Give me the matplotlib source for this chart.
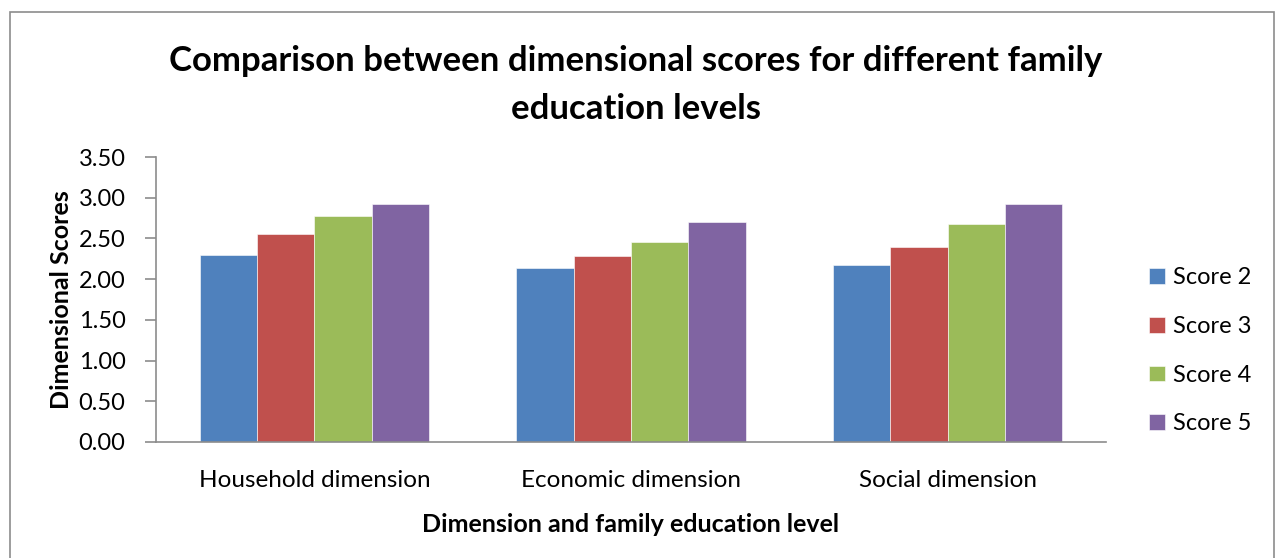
import matplotlib
matplotlib.use("Agg")
import matplotlib.pyplot as plt
from matplotlib.patches import Rectangle
import numpy as np

categories = ["Household dimension", "Economic dimension", "Social dimension"]
series_names = ["Score 2", "Score 3", "Score 4", "Score 5"]
score2 = [2.30, 2.14, 2.17]
score3 = [2.55, 2.29, 2.39]
score4 = [2.77, 2.45, 2.68]
score5 = [2.92, 2.70, 2.92]
yticks = [0.0, 0.5, 1.0, 1.5, 2.0, 2.5, 3.0, 3.5]
colors = ["#4F81BD", "#C0504D", "#9BBB59", "#8064A2"]

plt.rcParams['font.family'] = ['Lato', 'DejaVu Sans']

W, H = 1276, 558
fig = plt.figure(figsize=(W/100, H/100), dpi=100)
fig.patches.append(Rectangle((10/W, -0.1), (1274-10)/W, (H-12)/H + 0.1, transform=fig.transFigure,
                             fill=False, edgecolor="#8c8c8c", linewidth=1.2))

ax = fig.add_axes([156/W, 1-442/H, (1106-156)/W, (442-157)/H])
x = np.arange(len(categories))
bw = 0.181
data = [score2, score3, score4, score5]
for i, (vals, name, c) in enumerate(zip(data, series_names, colors)):
    ax.bar(x + (i - 1.5) * bw, vals, width=bw, color=c, label=name,
           edgecolor="white", linewidth=0.4)

ax.set_xlim(-0.5, 2.5)
ax.set_ylim(0, 3.5)
ax.set_yticks(yticks)
ax.set_yticklabels([f"{v:.2f}" for v in yticks], fontsize=17)
ax.set_xticks(x)
ax.set_xticklabels(categories, fontsize=17.5)
ax.tick_params(axis='x', length=0, pad=20)
ax.tick_params(axis='y', length=8, width=1.2, color="#8c8c8c", pad=14, direction='out')
for s in ["top", "right"]:
    ax.spines[s].set_visible(False)
for s in ["left", "bottom"]:
    ax.spines[s].set_color("#8c8c8c")
    ax.spines[s].set_linewidth(1.2)
ax.spines["bottom"].set_bounds(-0.5, 2.5)

ax.set_ylabel("Dimensional Scores", fontsize=18, fontweight="bold", labelpad=4)
ax.set_xlabel("Dimension and family education level", fontsize=18, fontweight="bold", labelpad=16)

fig.text(636/W, 1-85/H, "Comparison between dimensional scores for different family\neducation levels",
         ha="center", va="center", fontsize=25, fontweight="bold", linespacing=1.6)

leg = fig.legend(loc="upper left", bbox_to_anchor=(1140/W, 1-258/H), frameon=False,
                 fontsize=17, handlelength=0.65, handleheight=0.65, handletextpad=0.35,
                 labelspacing=1.17, borderaxespad=0)

fig.savefig("out.png", dpi=100)
